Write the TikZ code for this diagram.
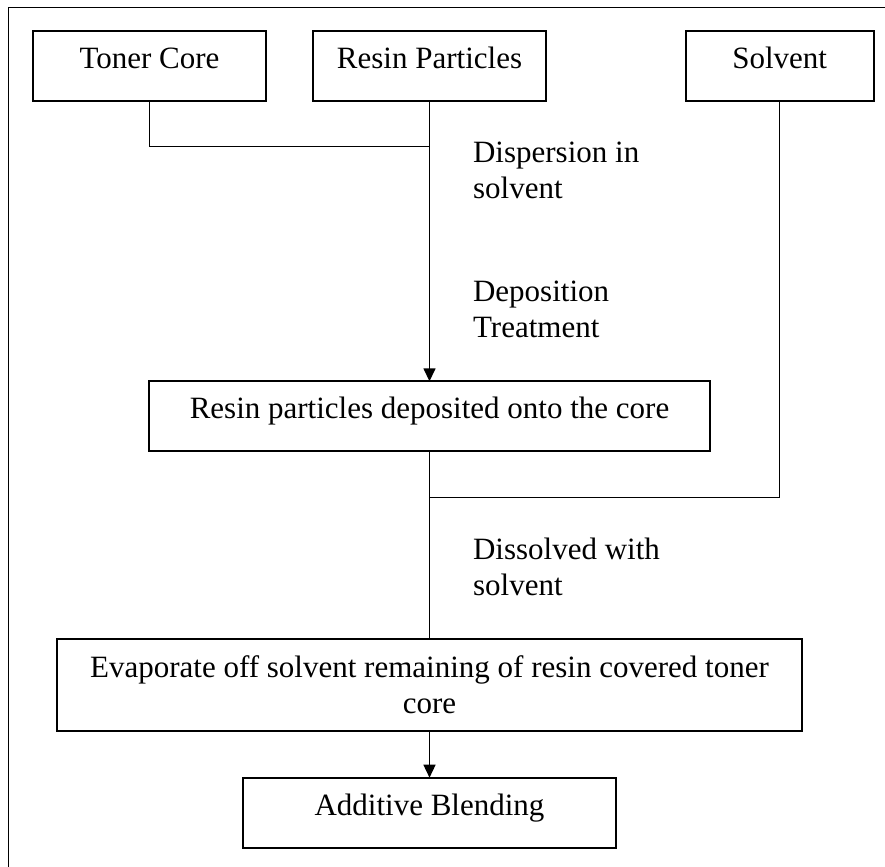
\documentclass[tikz,border=0pt]{standalone}
\usepackage{fontspec}
\setmainfont{Liberation Serif}
\usetikzlibrary{arrows.meta}

\begin{document}
\begin{tikzpicture}[x=0.5pt, y=-0.5pt,
    every node/.style={font=\fontsize{15.5}{18}\selectfont},
    box/.style={draw=black, line width=1pt, inner sep=0pt, outer sep=0pt,
      minimum height=35pt, text height=0.7em, text depth=0.44em},
    wrapbox/.style={box, align=center, text height={}, text depth={}},
    note/.style={anchor=base west, align=left, inner sep=0pt},
    link/.style={draw=black, line width=0.75pt},
    tip/.style={-{Triangle[length=6.5pt, width=6pt]}}]
      \useasboundingbox (0,0) rectangle (885,867);
      \draw[line width=0.7pt] (8.5,867) |- (885,7.3);
      % top row
      \node[box, minimum width=116.9pt] (toner) at (149.5,65.7) {Toner Core};
      \node[box, minimum width=116.9pt] (resin) at (429.5,65.7) {Resin Particles};
      \node[box, minimum width=94pt] (solvent) at (779.7,65.7) {Solvent};
      % process steps
      \node[box, minimum width=280.5pt, minimum height=34.7pt] (deposit) at (429.5,416) {Resin particles deposited onto the core};
      \node[wrapbox, minimum width=372.8pt, minimum height=45.85pt] (evap) at (429.5,684.9) {Evaporate off solvent remaining of resin covered toner\\core};
      \node[box, minimum width=186.8pt, minimum height=35.3pt] (additive) at (429.5,813) {Additive Blending};
      % joints
      \coordinate (mix) at (429.5,146.7);
      \coordinate (merge) at (429.5,497.3);
      \draw[link] (toner.south) |- (mix);
      \draw[link, tip] (resin.south) -- (deposit.north);
      \draw[link] (solvent.south) |- (merge);
      \draw[link] (deposit.south) -- (evap.north);
      \draw[link, tip] (evap.south) -- (additive.north);
      % step labels (base = last line)
      \node[note] (disp) at (472.7,198.5) {Dispersion in\\solvent};
      \node[note] (depo) at (472.7,337) {Deposition\\Treatment};
      \node[note] (diss) at (472.7,595) {Dissolved with\\solvent};
    \end{tikzpicture}
\end{document}
